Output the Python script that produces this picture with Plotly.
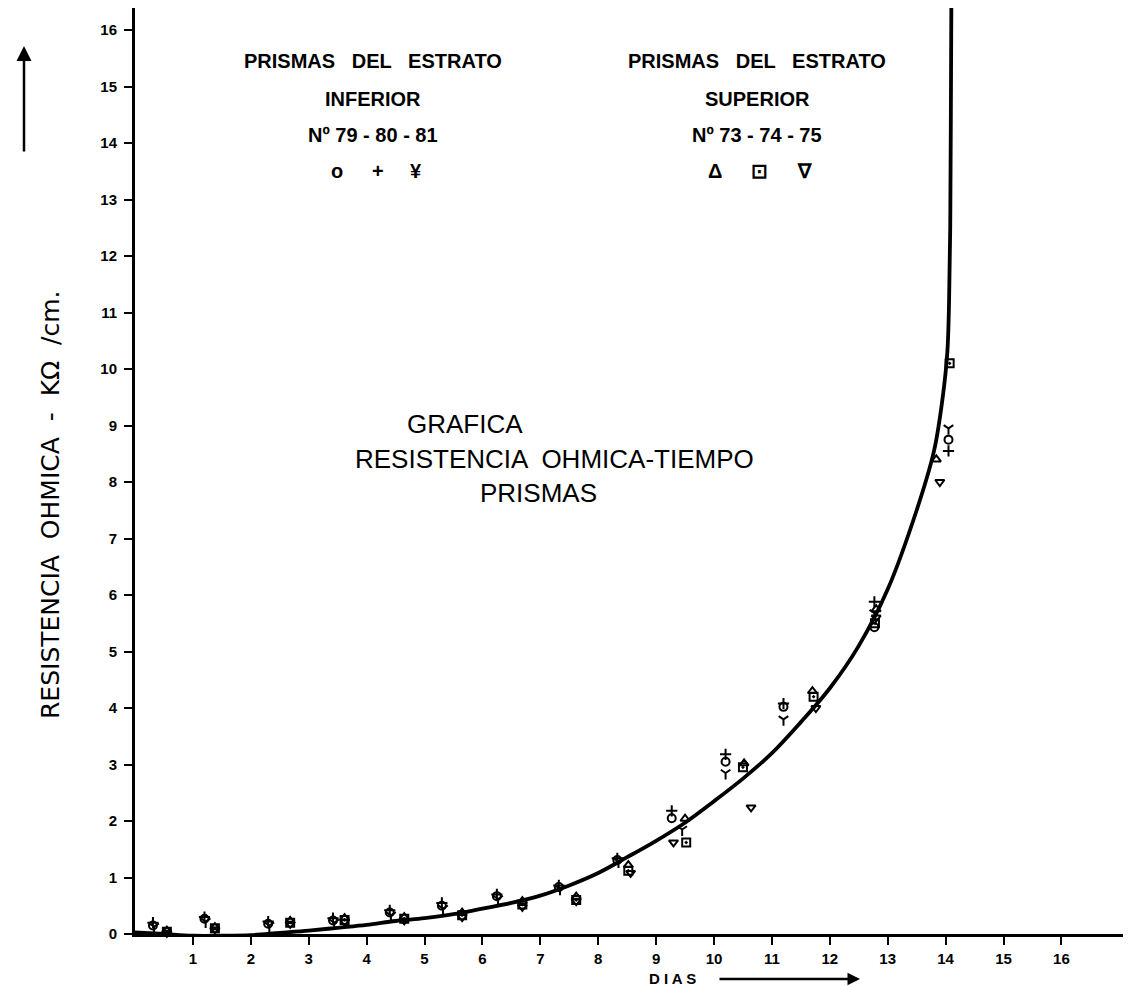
import plotly.graph_objects as go

# ---- data ----
x_ticks = list(range(1, 17))
y_ticks = list(range(0, 17))

curve_x = [0, 0.5, 1.0, 1.5, 2.0, 2.5, 3.0, 3.5, 4.0, 4.5, 5.0, 5.5, 6.0, 6.5, 7.0, 7.5,
           8.0, 8.5, 9.0, 9.5, 10.0, 10.5, 11.0, 11.5, 12.0, 12.5, 13.0, 13.5, 13.8, 13.95,
           14.03, 14.06, 14.08, 14.09, 14.1]
curve_y = [0.03, 0.0, -0.03, -0.03, -0.02, 0.02, 0.06, 0.11, 0.16, 0.23, 0.28, 0.35, 0.45,
           0.55, 0.68, 0.86, 1.08, 1.36, 1.65, 1.97, 2.35, 2.75, 3.2, 3.75, 4.35, 5.1, 6.1,
           7.5, 8.55, 9.5, 10.3, 11.2, 12.5, 14.3, 16.6]

# Inferior stratum prisms 79, 80, 81
p79_x = [0.31, 1.2, 2.3, 3.42, 4.4, 5.3, 6.25, 7.32, 8.33, 9.27, 10.2, 11.2, 12.77, 14.05]
p79_y = [0.15, 0.27, 0.18, 0.24, 0.38, 0.5, 0.67, 0.83, 1.31, 2.05, 3.05, 4.02, 5.43, 8.75]
p80_x = [0.31, 1.2, 2.3, 3.42, 4.4, 5.3, 6.25, 7.32, 8.33, 9.27, 10.2, 11.2, 12.77, 14.05]
p80_y = [0.2, 0.3, 0.22, 0.28, 0.42, 0.55, 0.7, 0.86, 1.34, 2.18, 3.18, 4.08, 5.88, 8.55]
p81_x = [0.33, 1.22, 2.32, 3.44, 4.42, 5.32, 6.27, 7.34, 8.35, 9.45, 10.2, 11.2, 12.77, 14.05]
p81_y = [0.13, 0.22, 0.15, 0.2, 0.33, 0.45, 0.62, 0.8, 1.28, 1.85, 2.85, 3.8, 5.68, 8.95]

# Superior stratum prisms 73, 74, 75
p73_x = [0.55, 1.38, 2.68, 3.62, 4.65, 5.65, 6.69, 7.62, 8.52, 9.5, 10.52, 11.7, 12.8, 13.84]
p73_y = [0.06, 0.12, 0.23, 0.28, 0.3, 0.38, 0.58, 0.66, 1.22, 2.04, 3.02, 4.3, 5.75, 8.4]
p74_x = [0.55, 1.38, 2.68, 3.62, 4.65, 5.65, 6.69, 7.62, 8.52, 9.52, 10.5, 11.72, 12.78, 14.07]
p74_y = [0.04, 0.1, 0.2, 0.25, 0.27, 0.33, 0.52, 0.6, 1.12, 1.62, 2.95, 4.2, 5.5, 10.1]
p75_x = [0.55, 1.38, 2.68, 3.62, 4.65, 5.65, 6.69, 7.62, 8.56, 9.3, 10.64, 11.76, 12.8, 13.9]
p75_y = [0.02, 0.08, 0.18, 0.22, 0.24, 0.3, 0.48, 0.58, 1.08, 1.62, 2.24, 4.0, 5.6, 8.0]

series = [
    (p79_x, p79_y, "circle-open", "Nº 79"),
    (p80_x, p80_y, "cross-thin-open", "Nº 80"),
    (p81_x, p81_y, "y-down-open", "Nº 81"),
    (p73_x, p73_y, "triangle-up-open", "Nº 73"),
    (p74_x, p74_y, "square-open-dot", "Nº 74"),
    (p75_x, p75_y, "triangle-down-open", "Nº 75"),
]

W, H = 1131, 986
L, B = 127, 60
PW, PH = W - L, H - B


def px(xp):
    return (xp - L) / PW


def py(yp):
    return (PH - yp) / PH


fig = go.Figure()
fig.add_trace(go.Scatter(x=curve_x, y=curve_y, mode="lines",
                         line=dict(color="black", width=3.8, shape="spline", smoothing=1.0),
                         showlegend=False, hoverinfo="skip"))
for xs, ys, sym, name in series:
    fig.add_trace(go.Scatter(x=xs, y=ys, mode="markers", name=name, cliponaxis=False, showlegend=False,
                             marker=dict(symbol=sym, size=8, color="black", line=dict(color="black", width=2))))

font = "Liberation Sans"
ann = []
# top legend blocks
left_lines = ["PRISMAS   DEL   ESTRATO", "INFERIOR", "Nº 79 - 80 - 81"]
right_lines = ["PRISMAS   DEL   ESTRATO", "SUPERIOR", "Nº 73 - 74 - 75"]
ys_top = [53, 91, 127]
for i, (a, b) in enumerate(zip(left_lines, right_lines)):
    ann.append(dict(x=px(365), y=py(ys_top[i]), text=a))
    ann.append(dict(x=px(749), y=py(ys_top[i]), text=b))
for g, xg in [("o", 329), ("+", 370), ("¥", 408), ("Δ", 707), ("⊡", 751), ("∇", 796)]:
    ann.append(dict(x=px(xg), y=py(163), text=g))
for a in ann:
    a.update(xref="paper", yref="paper", showarrow=False, xanchor="center", yanchor="middle",
             font=dict(family=font, size=20, color="black", weight="bold"))

# centre title
for t, xc, yc in [("GRAFICA", 457, 416), ("RESISTENCIA  OHMICA-TIEMPO", 546, 451), ("PRISMAS", 530, 485)]:
    ann.append(dict(x=px(xc), y=py(yc), xref="paper", yref="paper", text=t, showarrow=False,
                    xanchor="center", yanchor="middle", font=dict(family=font, size=26, color="black")))

# axis titles
ann.append(dict(x=px(42), y=py(497), xref="paper", yref="paper", text="RESISTENCIA  OHMICA  -  KΩ  /cm.",
                textangle=-90, showarrow=False, xanchor="center", yanchor="middle",
                font=dict(family="DejaVu Sans", size=25, color="black")))
ann.append(dict(x=px(16), y=py(38), xref="paper", yref="paper", text="", showarrow=True, ax=0, ay=107,
                arrowhead=2, arrowsize=1.2, arrowwidth=2.5, arrowcolor="black"))
ann.append(dict(x=px(664), y=py(971), xref="paper", yref="paper", text="D I A S", showarrow=False,
                xanchor="center", yanchor="middle",
                font=dict(family=font, size=15, color="black", weight="bold")))
ann.append(dict(x=px(852), y=py(971), xref="paper", yref="paper", text="", showarrow=True, ax=-142, ay=0,
                arrowhead=2, arrowsize=1, arrowwidth=2.5, arrowcolor="black"))

tickfont = dict(family=font, size=15, color="black", weight="bold")
fig.update_layout(
    width=W, height=H, margin=dict(l=L, r=0, t=0, b=B),
    paper_bgcolor="white", plot_bgcolor="white",
    annotations=ann,
    xaxis=dict(range=[0, PW / 57.9], tickvals=x_ticks, ticktext=[str(v) for v in x_ticks],
               showline=True, linewidth=3, linecolor="black", ticks="outside", ticklen=8, tickwidth=2,
               tickcolor="black", showgrid=False, zeroline=False, ticklabelstandoff=1,
               tickfont=tickfont),
    yaxis=dict(range=[0, PH / 56.5], tickvals=y_ticks, ticktext=[str(v) for v in y_ticks],
               showline=True, linewidth=3, linecolor="black", ticks="outside", ticklen=8, tickwidth=2,
               tickcolor="black", showgrid=False, zeroline=False, ticklabelstandoff=4,
               tickfont=tickfont),
)

fig.write_html("out.html")
